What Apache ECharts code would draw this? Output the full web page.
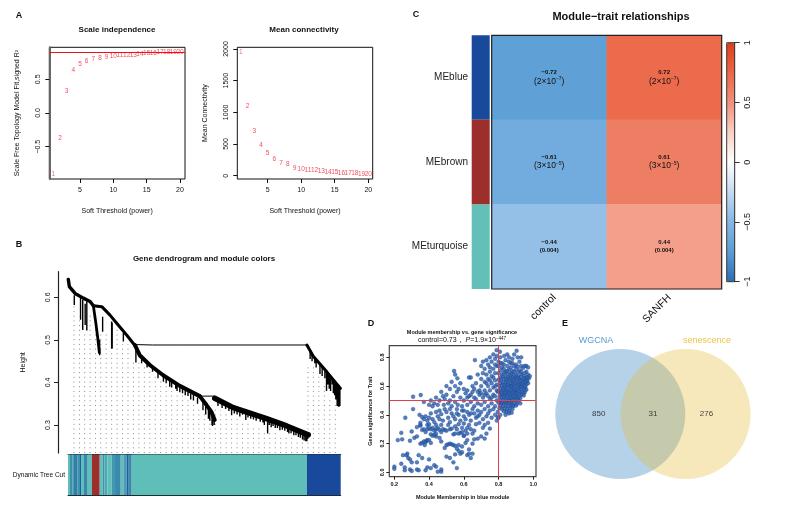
<!DOCTYPE html>
<html><head><meta charset="utf-8">
<style>html,body{margin:0;padding:0;background:#fff}#c{width:811px;height:508px}</style>
<script src="https://cdn.jsdelivr.net/npm/echarts@6/dist/echarts.min.js"></script>
</head><body><div id="c"></div>
<script>
const FONT='"Liberation Sans",Arial,sans-serif';
// Panel A
const powers=[1,2,3,4,5,6,7,8,9,10,11,12,13,14,15,16,17,18,19,20];
const scaleFit=[-0.915,-0.38,0.316,0.63,0.717,0.767,0.796,0.82,0.835,0.85,0.865,0.865,0.86,0.875,0.89,0.89,0.9,0.895,0.895,0.895];
const meanConn=[1942,1105,710,489,363,268,205,174,126,110,90,85,68,53,53,37,37,32,16,16];
const powerTicks=[5,10,15,20];
const fitTicks=[-0.5,0,0.5];
const connTicks=[0,500,1000,1500,2000];
// Panel B: branches as [gene position %, height]
const branchTop=[[0.1,.642],[0.5,.625],[2.6,.609],[5.6,.598],[8.1,.59],[9.3,.58]];
const branchLeftDown=[[9.3,.58],[10.2,.54],[10.9,.505],[11.5,.47]];
const branchRightArm=[[9.3,.58],[12.4,.578],[15.4,.558],[18.4,.535],[21.5,.5115],[24.4,.488]];
const branchLink=[[24.4,.489],[31,.488],[40,.488],[87.6,.488]];
const branchMiddle=[[24.5,.488],[26.3,.464],[30,.441],[34.9,.417],[41,.392],[48.3,.368]];
const branchFork=[[48.3,.368],[53.8,.368]];
const branchForkDown=[[48.3,.368],[50.8,.347],[52.6,.331],[53.8,.312]];
const branchLong=[[53.8,.363],[60.6,.341],[66.7,.328],[72.8,.315],[80.2,.298],[88.1,.277]];
const branchRight=[[87.6,.488],[90,.461],[94.9,.425],[99.9,.386]];
const heightTicks=[0.3,0.4,0.5,0.6];
// drops: [gene position %, top height, bottom height]
const drops=[[2.3,.605,.582],[4.6,.598,.547],[5.4,.594,.523],[6.3,.585,.535],[6.9,.59,.522],[11.6,.5,.464],[12.7,.554,.519],[16,.543,.479],[16.2,.54,.48],[20.3,.516,.496],[24.9,.484,.447],[35,.417,.402],[37.3,.41,.39],[39.5,.4,.385],[41,.392,.377],[43,.385,.37],[45,.375,.36],[51.5,.34,.315],[53,.325,.298],[53.6,.318,.3],[60,.345,.323],[62,.34,.325],[65.2,.333,.312],[67,.33,.315],[69,.325,.31],[70.5,.322,.308],[72,.32,.3],[73.2,.317,.28],[74.5,.315,.295],[76,.31,.293],[77.7,.305,.288],[79.5,.302,.287],[81,.297,.28],[82.8,.292,.276],[84.5,.287,.272],[86,.283,.266],[87.2,.28,.262],[87.9,.278,.268],[90.5,.46,.445],[92.4,.445,.42],[94.8,.428,.38],[95.8,.42,.385],[96.9,.412,.395],[97.8,.405,.37],[98.7,.398,.345],[99.2,.395,.343],[99.7,.39,.345],
[55,.358,.345],[56.5,.353,.34],[57.8,.35,.338],[59,.346,.333],[61,.34,.327],[63,.336,.32],[64,.334,.324],[66,.33,.318],[68,.326,.313],[71.5,.319,.306],[73.8,.313,.3],[75.2,.31,.298],[76.8,.307,.293],[78.6,.303,.289],[80.5,.298,.284],[81.8,.294,.281],[83.6,.289,.276],[85.2,.285,.27],[86.6,.281,.264],[87.6,.279,.262],
[88.8,.475,.455],[89.5,.468,.45],[91,.452,.435],[93.2,.438,.415],[94.2,.43,.41],[95.3,.42,.395],[96.3,.415,.38],[97.3,.41,.375],[98.2,.4,.36],[99.4,.39,.343],
[27,.46,.445],[29,.447,.435],[31,.435,.425],[33,.425,.41],[36,.41,.398],[38,.4,.388],[40,.395,.38],[42,.388,.375],[44,.38,.368],[46,.372,.358],[47.5,.365,.35],[49.5,.358,.335],[50.5,.348,.325],[52,.335,.31],[52.8,.33,.3]];
// guide columns: [gene position %, top height]
const guides=[[2.2,.58],[4.2,.555],[6.1,.52],[8.1,.56],[10.1,.54],[12,.52],[14,.52],[16,.47],[18,.53],[20,.49],[22,.49],[24,.45],[26,.455],[28,.44],[30,.43],[32,.42],[34,.405],[36,.395],[38,.385],[40,.375],[42,.37],[44,.365],[46,.35],[48,.34],[50,.33],[52,.31],[54,.34],[56,.335],[58,.33],[60,.32],[62,.32],[64,.31],[66,.305],[68,.3],[70,.3],[72,.285],[74,.29],[76,.285],[78,.275],[80,.27],[82,.27],[84,.265],[86,.26],[88,.44],[90,.44],[92,.42],[94,.4],[96,.36],[98,.35]];
const bandWidths=[.73,.98,.49,1.22,.98,.37,1.1,1.35,1.59,2.82,1.1,.61,1.1,1.59,1.22,2.08,.98,1.22,.73,1.1,64.24,12.4];
const bandColors=['#5fbfb8','#3e8fab','#4a9cb0','#2f7fa8','#3f8fae','#1f5fa0','#5fbfb8','#3a88ab','#5fbfb8','#9c2f2c','#5fbfb8','#3f8fae','#4ea8b2','#5fbfb8','#3f98b0','#3a88ab','#5fbfb8','#4a9cb0','#1f5fa0','#3a88ab','#5fbfb8','#19499b'];
// Panel C
const modules=['MEblue','MEbrown','MEturquoise'];
const moduleColors=['#19499b','#9c2f2c','#62c0b8'];
const traits=['control','SANFH'];
const corrControl=[-0.72,-0.61,-0.44];
const corrSanfh=[0.72,0.61,0.44];
const pBase=['2×10','3×10','0.004'];
const pExp=['−7','−5',''];
const legendTicks=[-1,-0.5,0,0.5,1];
const heatStops=['#2c6cb4','#5a9dd5','#85b6e4','#c4dbf2','#ffffff','#f9d0c4','#f1907a','#eb6646','#df3d1a'];
// Panel D
const mmTicks=[0.2,0.4,0.6,0.8,1.0];
const gsTicks=[0,0.2,0.4,0.6,0.8];
const scatterPoints=[
[.2,.04],[.2,.025],[.24,.06],[.26,.035],[.26,.015],[.29,.02],[.3,.01],[.33,.02],[.34,.015],[.38,.015],[.39,.035],[.41,.03],[.43,.05],[.44,.04],[.45,.005],[.47,.02],[.47,.005],[.33,.07],
[.25,.12],[.27,.12],[.275,.13],[.28,.1],[.29,.09],[.3,.07],[.34,.12],[.36,.1],[.4,.09],[.5,.11],[.52,.1],[.54,.07],[.55,.125],[.57,.15],[.58,.13],[.59,.14],[.62,.12],[.63,.13],[.64,.1],[.65,.13],[.56,.03],
[.22,.225],[.245,.23],[.24,.275],[.29,.22],[.3,.285],[.315,.24],[.33,.25],[.35,.2],[.36,.205],[.37,.215],[.375,.19],[.38,.21],[.385,.22],[.39,.225],[.4,.225],[.42,.255],[.44,.25],[.46,.24],[.5,.19],[.51,.195],[.52,.2],[.53,.195],[.54,.19],[.55,.185],[.56,.165],[.57,.19],[.59,.18],[.61,.205],[.62,.225],[.63,.16],[.65,.2],[.66,.23],[.7,.25],[.73,.27],[.72,.235],[.68,.235],[.6,.255],[.47,.215],[.49,.17],[.41,.205],
[.33,.315],[.35,.325],[.35,.33],[.36,.295],[.37,.3],[.39,.33],[.4,.335],[.41,.3],[.42,.31],[.43,.29],[.44,.3],[.45,.31],[.46,.295],[.47,.28],[.48,.3],[.49,.295],[.5,.29],[.52,.3],[.53,.305],[.54,.265],[.55,.27],[.57,.27],[.58,.275],[.59,.28],[.6,.34],[.61,.29],[.62,.31],[.63,.33],[.64,.3],[.65,.27],[.66,.29],[.67,.335],[.69,.345],[.71,.31],[.72,.33],[.74,.345],[.75,.305],[.44,.27],[.56,.3],[.57,.335],[.59,.31],[.47,.33],[.38,.28],[.41,.265],[.43,.26],[.6,.255],[.62,.27],[.39,.3],[.4,.31],[.44,.33],[.51,.33],[.55,.32],
[.263,.38],[.308,.44],[.345,.4],[.36,.385],[.35,.345],[.37,.37],[.38,.39],[.39,.36],[.4,.38],[.41,.41],[.42,.37],[.43,.35],[.44,.42],[.45,.39],[.46,.37],[.47,.405],[.48,.36],[.49,.44],[.5,.42],[.51,.38],[.52,.35],[.53,.41],[.54,.39],[.55,.37],[.56,.44],[.57,.4],[.58,.36],[.59,.43],[.6,.39],[.61,.37],[.62,.42],[.63,.4],[.64,.36],[.65,.44],[.66,.41],[.67,.38],[.68,.43],[.69,.4],[.7,.42],[.71,.37],[.72,.44],[.73,.39],[.74,.41],[.75,.43],[.76,.38],[.77,.44],[.78,.4],[.79,.36],[.8,.38],[.795,.42],[.46,.43],[.52,.44],[.56,.41],[.6,.43],[.64,.41],[.68,.39],
[.308,.526],[.352,.538],[.37,.49],[.4,.47],[.41,.5],[.42,.46],[.43,.48],[.44,.52],[.45,.47],[.46,.5],[.47,.56],[.48,.53],[.485,.47],[.49,.51],[.5,.54],[.51,.48],[.52,.5],[.53,.46],[.54,.53],[.55,.49],[.56,.56],[.565,.47],[.58,.52],[.59,.46],[.6,.5],[.61,.55],[.62,.47],[.63,.53],[.64,.49],[.65,.56],[.66,.46],[.67,.51],[.68,.48],[.69,.54],[.7,.47],[.71,.52],[.72,.49],[.73,.55],[.74,.46],[.75,.51],[.76,.48],[.77,.54],[.78,.46],[.79,.5],[.795,.56],
[.5,.6],[.52,.58],[.53,.63],[.544,.705],[.55,.68],[.563,.654],[.55,.6],[.57,.58],[.58,.62],[.6,.58],[.62,.57],[.63,.66],[.64,.66],[.65,.6],[.66,.58],[.67,.62],[.68,.68],[.69,.57],[.7,.65],[.7,.6],[.71,.69],[.72,.57],[.72,.63],[.73,.68],[.74,.6],[.74,.65],[.75,.7],[.75,.57],[.76,.62],[.76,.67],[.77,.59],[.77,.72],[.78,.64],[.78,.69],[.79,.57],[.79,.61],[.79,.74],[.73,.62],[.75,.64],[.77,.66],[.78,.6],
[.664,.781],[.7,.74],[.71,.77],[.72,.72],[.73,.78],[.74,.75],[.75,.73],[.75,.8],[.76,.77],[.77,.82],[.78,.75],[.78,.79],[.789,.85],[.79,.81],[.8,.77],[.808,.839],[.81,.8],[.82,.76],[.832,.81],[.84,.78],[.85,.82],[.86,.8],[.87,.76],[.88,.79],[.89,.82],[.904,.846],[.91,.8],[.92,.77],[.93,.8],[.95,.74],[.96,.74],[.97,.73],
[.81,.76],[.83,.75],[.86,.77],[.88,.76],[.9,.75],[.8,.74],[.82,.73],[.85,.74],[.87,.73],[.89,.74],[.91,.735],[.93,.74],[.81,.71],[.83,.72],[.84,.7],[.86,.715],[.88,.705],[.9,.72],[.92,.71],[.94,.725],[.96,.7],
[.8,.69],[.82,.68],[.83,.695],[.85,.685],[.87,.69],[.89,.68],[.91,.695],[.93,.685],[.95,.69],[.97,.68],[.81,.66],[.825,.665],[.84,.67],[.855,.66],[.87,.67],[.885,.66],[.9,.67],[.915,.66],[.93,.665],[.945,.67],[.96,.66],[.975,.655],
[.8,.645],[.815,.64],[.83,.65],[.845,.64],[.86,.645],[.875,.64],[.89,.65],[.905,.64],[.92,.645],[.935,.64],[.95,.645],[.965,.635],[.81,.62],[.825,.625],[.84,.62],[.855,.625],[.87,.62],[.885,.63],[.9,.62],[.915,.625],[.93,.62],[.945,.625],[.96,.615],
[.805,.6],[.82,.605],[.835,.6],[.85,.605],[.865,.6],[.88,.61],[.895,.6],[.91,.605],[.925,.6],[.94,.605],[.955,.595],[.81,.58],[.825,.585],[.84,.58],[.855,.59],[.87,.58],[.885,.585],[.9,.58],[.915,.585],[.93,.58],[.945,.585],[.96,.575],
[.8,.565],[.815,.56],[.83,.565],[.845,.56],[.86,.565],[.875,.56],[.89,.565],[.905,.56],[.92,.565],[.935,.56],[.95,.555],[.81,.54],[.825,.545],[.84,.54],[.855,.545],[.87,.54],[.885,.545],[.9,.54],[.915,.545],[.93,.54],[.945,.535],
[.805,.525],[.82,.52],[.835,.525],[.85,.52],[.865,.525],[.88,.52],[.895,.525],[.91,.52],[.925,.515],[.81,.5],[.825,.505],[.84,.5],[.855,.505],[.87,.5],[.885,.505],[.9,.5],[.915,.495],
[.8,.485],[.815,.48],[.83,.485],[.845,.48],[.86,.485],[.875,.48],[.89,.485],[.905,.475],[.81,.465],[.825,.46],[.84,.465],[.855,.46],[.87,.465],[.885,.46],[.9,.465],[.925,.48],[.805,.445],[.82,.44],[.835,.445],[.85,.44],[.865,.445],[.88,.44],[.83,.425],[.845,.42],[.86,.425],[.875,.415],[.81,.4],[.84,.4],[.86,.41],[.795,.385],
[.68,.56],[.7,.55],[.72,.54],[.74,.53],[.76,.52],[.78,.53],[.66,.52],[.64,.54],[.62,.52],
[.85,.705],[.87,.68],[.89,.7],[.91,.67],[.93,.7],[.845,.65],[.865,.655],[.885,.645],[.905,.655],[.925,.635],[.945,.655],[.835,.61],[.855,.61],[.875,.6],[.895,.615],[.915,.605],[.935,.61],[.955,.63],[.83,.575],[.85,.57],[.87,.595],[.89,.575],[.91,.57],[.93,.595],[.95,.57],[.82,.55],[.84,.555],[.86,.55],[.88,.555],[.9,.55],[.92,.53],[.94,.55],[.83,.53],[.85,.535],[.87,.515],[.89,.535],[.91,.51],[.82,.49],[.84,.49],[.86,.495],[.88,.47],[.9,.51],[.96,.64],[.97,.62],[.95,.6],[.965,.66],[.98,.67]
];
// Panel E
const vennCenters=[[0,.5],[1,.5]];
const vennCounts=[[-.33,.5,'850'],[.5,.5,'31'],[1.32,.5,'276']];

const hiddenSym={color:'rgba(0,0,0,0)'};
const ax=(o)=>Object.assign({type:'value',splitLine:{show:false},axisLine:{show:false,onZero:false}},o);
const tick=(vals,color='#111',len=4)=>({axisTick:{show:true,customValues:vals,length:len,lineStyle:{color,width:1}}});
const lab=(vals,size,extra={})=>({axisLabel:Object.assign({show:true,customValues:vals,fontSize:size,fontFamily:FONT,color:'#111',hideOverlap:false,showMinLabel:true,showMaxLabel:true},extra)});
const nm=(name,gap,size,rot,extra={})=>({name,nameLocation:'middle',nameGap:gap,nameRotate:rot,nameTextStyle:Object.assign({fontSize:size,fontFamily:FONT,color:'#111'},extra)});
const minus=v=>String(v).replace('-','−');
const T=(text,x,y,size,bold=true,color='#111')=>({text,left:x,top:y,padding:0,textAlign:'center',textVerticalAlign:'middle',textStyle:{fontSize:size,fontWeight:bold?'bold':'normal',fontFamily:FONT,color}});
const titles=[
T('A',19,16,9),T('B',19,245,9),T('C',416,15,9),T('D',371,324,9),T('E',565,324,9),
T('Scale independence',117,30,8),T('Mean connectivity',304,30,8),
T('Gene dendrogram and module colors',204,259,8),
T('Module−trait relationships',621,17,11),
T('Module membership vs. gene significance',462,332,5.5),
T('WGCNA',596,341,9,false,'#5a9bd0'),T('senescence',707,341,9,false,'#eec544')
];
const grids=[
{left:49.3,top:47.3,width:135.7,height:131.7,show:true,borderColor:'#111',borderWidth:1,backgroundColor:'transparent'},
{left:237.3,top:47.3,width:135.4,height:131.7,show:true,borderColor:'#111',borderWidth:1,backgroundColor:'transparent'},
{left:68,top:271.7,width:272.7,height:181.3},
{left:68,top:454.5,width:272.7,height:40.5},
{left:471.7,top:35.3,width:18,height:253.7},
{left:491.7,top:35.3,width:230,height:253.7,show:true,z:6,borderColor:'#222',borderWidth:1.2,backgroundColor:'transparent'},
{left:726.7,top:42.7,width:8,height:239,show:true,z:6,borderColor:'#333',borderWidth:1,backgroundColor:'transparent'},
{left:389.3,top:345.7,width:146.7,height:131,show:true,borderColor:'#444',borderWidth:1.2,backgroundColor:'transparent'},
{left:555,top:349,width:195.9,height:130},
{left:497,top:35.3,width:230,height:253.7}
];
const xAxes=[
ax({gridIndex:0,min:.4,max:20.75,...tick(powerTicks),...lab(powerTicks,7,{margin:8}),...nm('Soft Threshold (power)',29,7)}),
ax({gridIndex:1,min:.47,max:20.66,...tick(powerTicks),...lab(powerTicks,7,{margin:8}),...nm('Soft Threshold (power)',29,7)}),
ax({gridIndex:2,min:0,max:100,show:false}),
ax({gridIndex:3,min:0,max:100,axisLabel:{show:false},axisTick:{show:false},axisLine:{show:true,onZero:false,lineStyle:{color:'#1d2d30',width:1}}}),
{type:'category',gridIndex:4,data:['m'],show:false},
{type:'category',gridIndex:5,data:traits,show:false},
ax({gridIndex:6,min:0,max:1,show:false}),
ax({gridIndex:7,min:.171,max:1.0155,...tick(mmTicks,'#222',3),...lab(mmTicks,5.5,{margin:5,fontWeight:'bold',formatter:v=>v.toFixed(1)}),...nm('Module Membership in blue module',18,5.5,0,{fontWeight:'bold'})}),
ax({gridIndex:8,min:-1,max:2,show:false}),
ax({gridIndex:3,min:0,max:100,position:'top',axisLabel:{show:false},axisTick:{show:false},axisLine:{show:true,onZero:false,lineStyle:{color:'#1d2d30',width:1}}}),
ax({gridIndex:4,min:0,max:1,show:false}),
{type:'category',gridIndex:9,data:traits,axisTick:{show:false},axisLine:{show:false,onZero:false},axisLabel:{rotate:45,fontSize:10.5,fontFamily:FONT,color:'#111',margin:7,interval:0}}
];
const yAxes=[
ax({gridIndex:0,min:-.98,max:.975,axisLine:{show:true,onZero:false,lineStyle:{color:'#666',width:2}},...tick(fitTicks),...lab(fitTicks,7,{rotate:90,margin:8,formatter:v=>minus(v.toFixed(1))}),...nm('Scale Free Topology Model Fit,signed R²',29,7,90)}),
ax({gridIndex:1,min:-52,max:2027,...tick(connTicks),...lab(connTicks,7,{rotate:90,margin:8,formatter:v=>String(v)}),...nm('Mean Connectivity',29,7,90)}),
ax({gridIndex:2,min:.2345,max:.66,offset:10,axisLine:{show:true,onZero:false,lineStyle:{color:'#222',width:1.2}},...tick(heightTicks,'#222',4),...lab(heightTicks,7,{rotate:90,margin:6,formatter:v=>v.toFixed(1)}),...nm('Height',31,7,90)}),
{type:'category',gridIndex:3,data:['Dynamic Tree Cut'],axisTick:{show:false},axisLine:{show:false},axisLabel:{fontSize:6.5,fontFamily:FONT,color:'#111',margin:3}},
{type:'category',gridIndex:4,data:modules,inverse:true,axisTick:{show:false},axisLine:{show:false},axisLabel:{fontSize:10,fontFamily:FONT,color:'#222',margin:3.7}},
{type:'category',gridIndex:5,data:modules,inverse:true,show:false},
ax({gridIndex:6,min:-1,max:1,position:'right',axisLine:{show:true,onZero:false,lineStyle:{color:'#333',width:1}},...tick(legendTicks,'#333',5),...lab(legendTicks,9,{rotate:90,margin:8,formatter:v=>minus(v)})}),
ax({gridIndex:7,min:-.03,max:.881,...tick(gsTicks,'#222',3),...lab(gsTicks,5.5,{rotate:90,margin:4,fontWeight:'bold',formatter:v=>v.toFixed(1)}),...nm('Gene significance for Trait',15.5,5.5,90,{fontWeight:'bold'})}),
ax({gridIndex:8,min:0,max:1,show:false}),
ax({gridIndex:9,min:0,max:1,show:false})
];
const textSeries=(xi,ys)=>({type:'scatter',xAxisIndex:xi,yAxisIndex:xi,symbolSize:1,itemStyle:hiddenSym,silent:true,
  data:powers.map((p,i)=>({value:[p,ys[i]],label:{color:i===0?'#e0409a':'#ee2233'}})),
  label:{show:true,position:'inside',fontSize:6.5,fontFamily:FONT,formatter:p=>String(p.value[0])},labelLayout:{hideOverlap:false}});
const lineS=(data,w,xi=2)=>({type:'line',xAxisIndex:xi,yAxisIndex:xi,data,showSymbol:false,symbol:'none',silent:true,clip:false,lineStyle:{color:'#000',width:w,cap:'round',join:'round'},z:5});
const dropData=drops.flatMap(d=>[[d[0],d[1]],[d[0],d[2]],[d[0],null]]);
const guideData=guides.flatMap(d=>[[d[0],.2345],[d[0],d[1]],[d[0],null]]);
const heatData=[...corrControl.map((v,i)=>[0,i,v]),...corrSanfh.map((v,i)=>[1,i,v])];
const heatLabel=p=>{const i=p.value[1];const big=pExp[i]!=='';
  const v='{v|'+minus(p.value[2])+'}';
  return v+'\n'+(big?'{p|('+pBase[i]+'}{s|'+pExp[i]+'}{p|)}':'{q|('+pBase[i]+')}');};
const series=[
textSeries(0,scaleFit),
{type:'line',xAxisIndex:0,yAxisIndex:0,data:[],markLine:{symbol:'none',silent:true,label:{show:false},animation:false,lineStyle:{color:'#f01010',width:1.2,type:'solid'},data:[{yAxis:.9}]}},
textSeries(1,meanConn),
{type:'line',xAxisIndex:2,yAxisIndex:2,data:guideData,showSymbol:false,symbol:'none',silent:true,connectNulls:false,lineStyle:{color:'#8a8a8a',width:1,type:[1,3.7]},z:1},
{type:'line',xAxisIndex:2,yAxisIndex:2,data:dropData,showSymbol:false,symbol:'none',silent:true,connectNulls:false,lineStyle:{color:'#000',width:1.4},z:4},
lineS(branchTop,3.4),lineS(branchLeftDown,2.8),lineS(branchRightArm,3),lineS(branchLink,1),lineS(branchMiddle,4),lineS(branchFork,1),lineS(branchForkDown,4),lineS(branchLong,5.5),lineS(branchRight,3),
...bandWidths.map((w,i)=>({type:'bar',xAxisIndex:3,yAxisIndex:3,stack:'band',barWidth:'100%',silent:true,data:[w],itemStyle:{color:bandColors[i]}})),
{type:'bar',xAxisIndex:10,yAxisIndex:4,silent:true,barWidth:'100%',data:moduleColors.map(c=>({value:1,itemStyle:{color:c}}))},
{type:'heatmap',xAxisIndex:5,yAxisIndex:5,data:heatData,silent:true,itemStyle:{borderWidth:0},
 label:{show:true,formatter:heatLabel,color:'#111',lineHeight:9,fontFamily:FONT,rich:{
  v:{fontSize:6,fontWeight:'bold',fontFamily:FONT,color:'#111',lineHeight:8},
  p:{fontSize:8.5,fontFamily:FONT,color:'#111',lineHeight:10},
  q:{fontSize:6,fontWeight:'bold',fontFamily:FONT,color:'#111',lineHeight:8},
  s:{fontSize:5,fontFamily:FONT,color:'#111',verticalAlign:'top',lineHeight:10}}}},
{type:'line',xAxisIndex:6,yAxisIndex:6,data:[]},
{type:'scatter',xAxisIndex:7,yAxisIndex:7,data:scatterPoints,symbolSize:3.8,silent:true,itemStyle:{color:'#2f60aa',borderColor:'#1c4a9c',borderWidth:.5},z:3},
{type:'line',xAxisIndex:7,yAxisIndex:7,data:[],z:6,markLine:{symbol:'none',silent:true,label:{show:false},animation:false,lineStyle:{color:'#e0404a',width:1,type:'solid'},data:[{xAxis:.8},{yAxis:.5}]}},
{type:'scatter',xAxisIndex:8,yAxisIndex:8,data:[vennCenters[0]],symbolSize:130,silent:true,itemStyle:{color:'#6da5d1',opacity:.5}},
{type:'scatter',xAxisIndex:8,yAxisIndex:8,data:[vennCenters[1]],symbolSize:130,silent:true,itemStyle:{color:'#e7b934',opacity:.33}},
{type:'scatter',xAxisIndex:8,yAxisIndex:8,data:vennCounts,symbolSize:1,silent:true,itemStyle:hiddenSym,z:5,label:{show:true,position:'inside',fontSize:8,fontFamily:FONT,color:'#111',formatter:p=>p.value[2]}}
];
const heatSeriesIndex=series.findIndex(s=>s.type==='heatmap');
titles.push({text:'{a|control=0.73， }{b|P}{a|=1.9×10}{s|−447}',left:462,top:340,padding:0,textAlign:'center',textVerticalAlign:'middle',textStyle:{fontWeight:'normal',rich:{a:{fontSize:7,fontWeight:'normal',fontFamily:FONT,color:'#111'},b:{fontSize:7,fontWeight:'normal',fontStyle:'italic',fontFamily:FONT,color:'#111'},s:{fontSize:4.5,fontWeight:'normal',fontFamily:FONT,color:'#111',verticalAlign:'top'}}}});
const chart=echarts.init(document.getElementById('c'),null,{renderer:'canvas',width:811,height:508});
chart.setOption({animation:false,backgroundColor:'#fff',title:titles,grid:grids,xAxis:xAxes,yAxis:yAxes,
 visualMap:{type:'continuous',seriesIndex:heatSeriesIndex,min:-1,max:1,left:726.7,top:42.7,itemWidth:8,itemHeight:239,padding:0,showLabel:false,calculable:false,inRange:{color:heatStops},formatter:()=>''},
 series});
</script></body></html>
